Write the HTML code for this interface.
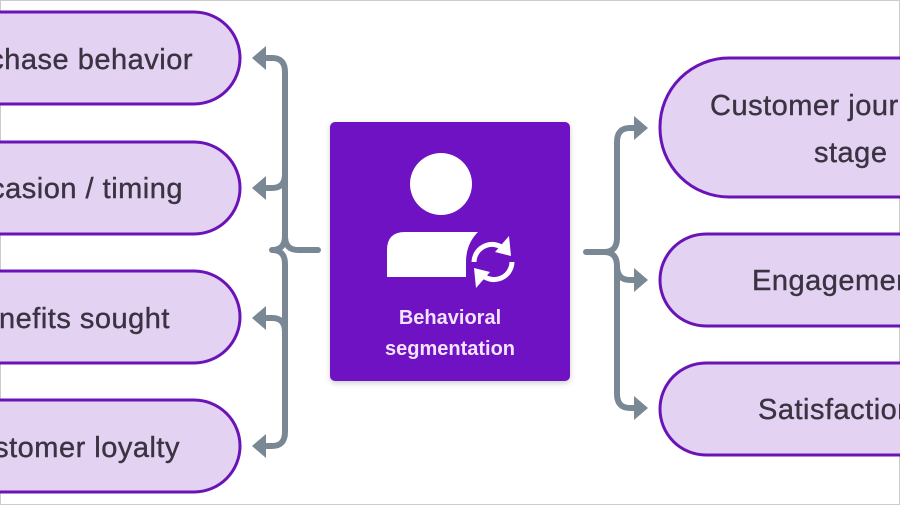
<!DOCTYPE html>
<html><head><style>body{margin:0;background:#fff}svg{display:block}</style></head><body>
<svg width="900" height="505" viewBox="0 0 900 505" xmlns="http://www.w3.org/2000/svg" font-family="'Liberation Sans','DejaVu Sans',sans-serif">
<rect x="0.5" y="0.5" width="899" height="504" fill="#fff" stroke="#ccc"/>
<g fill="#e4d2f3" stroke="#6a14b8" stroke-width="3">
<rect x="-120" y="12" width="360" height="92" rx="46"/>
<rect x="-120" y="142" width="360" height="92" rx="46"/>
<rect x="-120" y="271" width="360" height="92" rx="46"/>
<rect x="-120" y="400" width="360" height="92" rx="46"/>
<rect x="660" y="58" width="360" height="139" rx="69"/>
<rect x="660" y="234" width="360" height="92" rx="46"/>
<rect x="660" y="363" width="360" height="92" rx="46"/>
</g>
<g fill="#3a3442" font-size="29" letter-spacing="0.5" stroke="#3a3442" stroke-width="0.4" text-anchor="end">
<text x="193" y="69">Purchase behavior</text>
<text x="183" y="198">Occasion / timing</text>
<text x="170" y="328">Benefits sought</text>
<text x="180" y="457">Customer loyalty</text>
</g>
<g fill="#3a3442" font-size="29" letter-spacing="0.5" stroke="#3a3442" stroke-width="0.4">
<text x="710" y="115">Customer journey</text>
<text x="814" y="162">stage</text>
<text x="752" y="290">Engagement</text>
<text x="758" y="419">Satisfaction</text>
</g>
<g fill="none" stroke="#7a8896" stroke-width="6" stroke-linecap="round">
<path d="M262 58 H272 Q285 58 285 72 V236 Q285 250 272 250 M285 236 Q285 250 298 250 H318 M285 264 Q285 250 272 250 M285 264 V432 Q285 446 272 446 H262"/>
<path d="M262 188 H272 Q285 188 285 174 M262 318 H272 Q285 318 285 332"/>
<path d="M586 252 H604 Q617 252 617 238 V142 Q617 128 630 128 H640 M617 266 Q617 252 604 252 M617 266 V394 Q617 408 630 408 H640 M617 266 Q617 280 630 280 H640"/>
</g>
<g fill="#7a8896">
<path d="M252 58 L266 46 L266 70 Z"/><path d="M252 188 L266 176 L266 200 Z"/>
<path d="M252 318 L266 306 L266 330 Z"/><path d="M252 446 L266 434 L266 458 Z"/>
<path d="M648 128 L634 116 L634 140 Z"/><path d="M648 280 L634 268 L634 292 Z"/><path d="M648 408 L634 396 L634 420 Z"/>
</g>
<rect x="330" y="122" width="240" height="259" rx="5" fill="#6e12c4" filter="drop-shadow(0 2px 3px rgba(0,0,0,.2))"/>
<circle cx="441" cy="184" r="31" fill="#fff"/>
<path d="M387 277 V250 Q387 232 405 232 H478 Q466 244 466 262 V277 Z" fill="#fff"/>
<g fill="none" stroke="#fff" stroke-width="5">
<path d="M474 262 A18 18 0 0 1 505 250"/><path d="M512 262 A18 18 0 0 1 481 274"/>
</g>
<path d="M509 236 L511 256 L495 252 Z M476 288 L474 268 L490 272 Z" fill="#fff"/>
<g fill="#f3e3ff" font-size="20" font-weight="bold" text-anchor="middle">
<text x="450" y="324">Behavioral</text>
<text x="450" y="355">segmentation</text>
</g>
</svg>
</body></html>
